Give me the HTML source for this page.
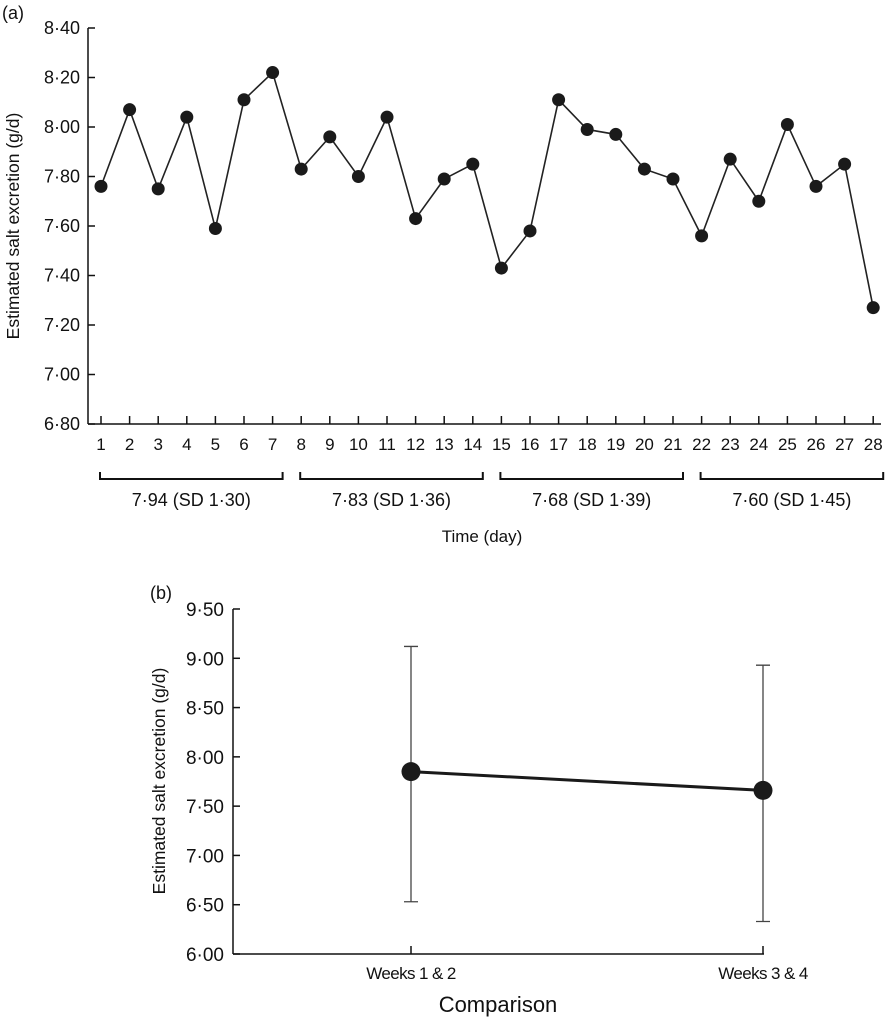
<!DOCTYPE html>
<html><head><meta charset="utf-8"><style>
body{margin:0;background:#fff}
svg{display:block;font-family:"Liberation Sans",Arial,sans-serif;fill:#111}
</style></head><body>
<svg width="885" height="1020" viewBox="0 0 885 1020">
<g id="pa"></g>
<g id="pb"></g>
</svg>
<script>
const days = [1,2,3,4,5,6,7,8,9,10,11,12,13,14,15,16,17,18,19,20,21,22,23,24,25,26,27,28];
const dailyValues = [7.76,8.07,7.75,8.04,7.59,8.11,8.22,7.83,7.96,7.80,8.04,7.63,7.79,7.85,7.43,7.58,8.11,7.99,7.97,7.83,7.79,7.56,7.87,7.70,8.01,7.76,7.85,7.27];
const yTicksA = [6.8,7.0,7.2,7.4,7.6,7.8,8.0,8.2,8.4];
const weekLabels = ["7·94 (SD 1·30)","7·83 (SD 1·36)","7·68 (SD 1·39)","7·60 (SD 1·45)"];
const groups = ["Weeks 1 & 2","Weeks 3 & 4"];
const groupMeans = [7.85,7.66];
const groupUpper = [9.12,8.93];
const groupLower = [6.53,6.33];
const yTicksB = [6.0,6.5,7.0,7.5,8.0,8.5,9.0,9.5];

const NS="http://www.w3.org/2000/svg";
function mk(parent,tag,attrs,text){const e=document.createElementNS(NS,tag);for(const k in attrs)e.setAttribute(k,attrs[k]);if(text!==undefined)e.textContent=text;parent.appendChild(e);return e;}
const fmt=v=>v.toFixed(2).replace('.','·');

// Panel A
const pa=document.getElementById('pa');
const xA=d=>101+(d-1)*28.6;
const yA=v=>424-(v-6.8)/1.6*396;
let t;
t=mk(pa,'text',{x:2,y:19,'font-size':18},'(a)');

t=mk(pa,'line',{x1:88,y1:28,x2:88,y2:424,stroke:'#111','stroke-width':1.5});

t=mk(pa,'line',{x1:88,y1:424,x2:881,y2:424,stroke:'#111','stroke-width':1.5});

yTicksA.forEach(v=>{
  mk(pa,'line',{x1:88,y1:yA(v),x2:95,y2:yA(v),stroke:'#111','stroke-width':1.5});
  t=mk(pa,'text',{x:80,y:yA(v)+6,'font-size':18,'text-anchor':'end'},fmt(v));
  
});
days.forEach(d=>{
  mk(pa,'line',{x1:xA(d),y1:424,x2:xA(d),y2:416,stroke:'#111','stroke-width':1.5});
  t=mk(pa,'text',{x:xA(d),y:450,'font-size':17,'text-anchor':'middle'},d);
  
});
weekLabels.forEach((l,i)=>{
  const x1=xA(i*7+1)-1, x2=xA(i*7+7)+10;
  t=mk(pa,'path',{d:`M${x1} 472 V479 H${x2} V472`,fill:'none',stroke:'#111','stroke-width':2});
  
  t=mk(pa,'text',{x:(x1+x2)/2,y:506,'font-size':18,'text-anchor':'middle'},l);
  
});
t=mk(pa,'text',{x:482,y:542,'font-size':17,'text-anchor':'middle'},'Time (day)');

t=mk(pa,'text',{x:0,y:0,'font-size':17.5,'text-anchor':'middle',transform:'translate(19,226) rotate(-90)'},'Estimated salt excretion (g/d)');

t=mk(pa,'polyline',{points:days.map((d,i)=>xA(d)+','+yA(dailyValues[i])).join(' '),fill:'none',stroke:'#222','stroke-width':1.6});

days.forEach((d,i)=>{
  t=mk(pa,'circle',{cx:xA(d),cy:yA(dailyValues[i]),r:6.5,fill:'#1a1a1a'});
  
});

// Panel B
const pb=document.getElementById('pb');
const xB=i=>411+i*352;
const yB=v=>954-(v-6)/3.5*345;
t=mk(pb,'text',{x:150,y:599,'font-size':18},'(b)');

t=mk(pb,'line',{x1:233,y1:609,x2:233,y2:954,stroke:'#111','stroke-width':1.5});

t=mk(pb,'line',{x1:233,y1:954,x2:764,y2:954,stroke:'#111','stroke-width':1.5});

yTicksB.forEach(v=>{
  mk(pb,'line',{x1:233,y1:yB(v),x2:240,y2:yB(v),stroke:'#111','stroke-width':1.5});
  t=mk(pb,'text',{x:224,y:yB(v)+7,'font-size':19,'text-anchor':'end'},fmt(v));
  
});
groups.forEach((g,i)=>{
  mk(pb,'line',{x1:xB(i),y1:954,x2:xB(i),y2:946,stroke:'#111','stroke-width':1.5});
  t=mk(pb,'text',{x:xB(i),y:979,'font-size':17,'text-anchor':'middle','letter-spacing':'-0.6'},g);
  
  t=mk(pb,'path',{d:`M${xB(i)} ${yB(groupUpper[i])} V${yB(groupLower[i])} M${xB(i)-7} ${yB(groupUpper[i])} H${xB(i)+7} M${xB(i)-7} ${yB(groupLower[i])} H${xB(i)+7}`,stroke:'#444','stroke-width':1.3,fill:'none'});
  
});
t=mk(pb,'line',{x1:xB(0),y1:yB(groupMeans[0]),x2:xB(1),y2:yB(groupMeans[1]),stroke:'#1a1a1a','stroke-width':3});

groups.forEach((g,i)=>{
  t=mk(pb,'circle',{cx:xB(i),cy:yB(groupMeans[i]),r:9.5,fill:'#1a1a1a'});
  
});
t=mk(pb,'text',{x:0,y:0,'font-size':17.5,'text-anchor':'middle',transform:'translate(165,781) rotate(-90)'},'Estimated salt excretion (g/d)');

t=mk(pb,'text',{x:498,y:1012,'font-size':22,'text-anchor':'middle'},'Comparison');

</script>
</body></html>
